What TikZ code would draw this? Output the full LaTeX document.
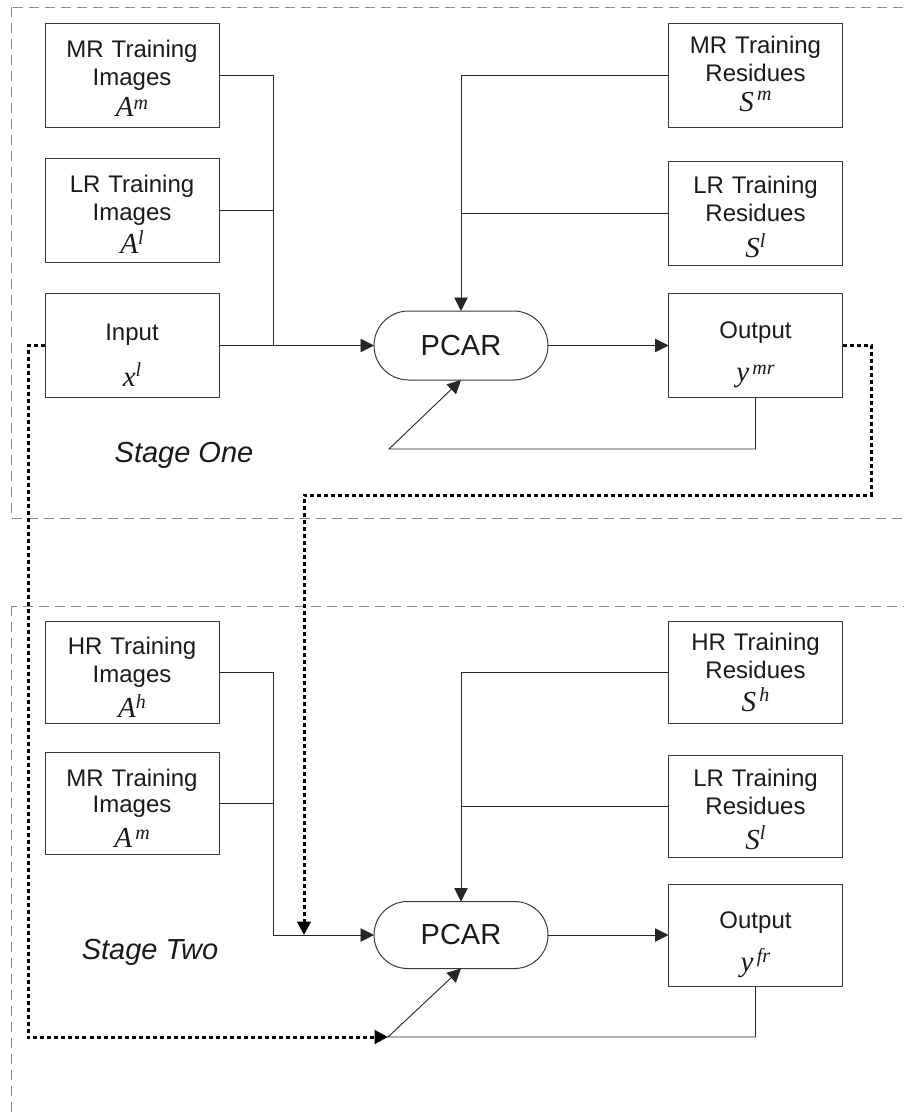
\documentclass[tikz,border=0pt]{standalone}
\usepackage{fontspec}
\setmainfont{Liberation Sans}
\newfontfamily\tmsfam{Liberation Serif}
\usetikzlibrary{arrows.meta,shapes.misc}
\definecolor{boxc}{HTML}{3A3A3A}
\definecolor{linec}{HTML}{262626}
\definecolor{framec}{HTML}{8A8A8A}
\definecolor{txt}{HTML}{1A1A1A}
% \mvar{raise}{base}{superscript}
\newcommand{\mvar}[3]{{\fontsize{29}{29}\selectfont\tmsfam\itshape #2}\raisebox{#1}{\fontsize{20}{20}\selectfont\tmsfam\itshape #3}}
\begin{document}
\begin{tikzpicture}[x=1pt,y=-1pt,
  box/.style={draw=boxc, line width=1pt, minimum width=174pt, inner sep=0pt, outer sep=0pt,
    text width=172pt, align=center, font=\fontsize{24}{28}\selectfont, text=txt,
    text height=#1, text depth=104pt-#1},
  box/.default=34pt,
  boxb/.style={draw=boxc, line width=1pt, minimum width=174pt, inner sep=0pt, outer sep=0pt,
    text width=172pt, align=center, font=\fontsize{24}{28}\selectfont, text=txt,
    text height=#1, text depth=102pt-#1},
  boxb/.default=33pt,
  pcarbox/.style={rounded rectangle, draw=boxc, line width=1pt, minimum width=174pt, minimum height=69pt, inner sep=0pt, outer sep=0pt, font=\fontsize{29}{29}\selectfont, text=txt},
  conn/.style={line width=0.9pt, draw=linec},
  arr/.style={-{Triangle[length=13.5pt,width=13.5pt]}},
  dots/.style={line width=3pt, dash pattern=on 4pt off 3pt, draw=black},
  frame/.style={draw=framec, line width=1pt, dash pattern=on 10pt off 6pt},
  stage/.style={font=\fontsize{29}{29}\selectfont\itshape, text=txt}]
\useasboundingbox (0,0) rectangle (903,1117);
% frames
\draw[frame] (11,7) rectangle (906,518);
\draw[frame] (11,606) rectangle (906,1130);
% stage one nodes
\node[box=34pt] (mri) at (132,75) {MR Training\\Images\\[3.7pt]\mvar{7pt}{A}{m}};
\node[box=33.7pt] (lri) at (132,210.5) {LR Training\\Images\\[5pt]\mvar{9pt}{A}{l}};
\node[box=47pt] (inp) at (132,345.5) {Input\\[16pt]\mvar{10pt}{x}{l}};
\node[box=30.3pt] (mrr) at (755.5,75) {MR Training\\Residues\\[2pt]\mvar{11pt}{S}{\,m}};
\node[box=32.3pt] (lrr) at (755.5,213) {LR Training\\Residues\\[8.5pt]\mvar{10pt}{S}{l}};
\node[box=45pt] (out1) at (755.5,345.5) {Output\\[15.4pt]\mvar{7pt}{y}{\,mr}};
\node[pcarbox] (pcar1) at (461,345.5) {PCAR};
\node[stage] (st1) at (184,455) {Stage One};
% stage two nodes
\node[boxb=33pt] (hri) at (132,672.5) {HR Training\\Images\\[7pt]\mvar{9pt}{A}{h}};
\node[boxb=33.7pt] (mri2) at (132,803.5) {MR Training\\[-1.7pt]Images\\[7pt]\mvar{8pt}{A}{\,m}};
\node[boxb=29pt] (hrr) at (755.5,672.5) {HR Training\\Residues\\[5.3pt]\mvar{10pt}{S}{\,h}};
\node[boxb=31.3pt] (lrr2) at (755.5,806.5) {LR Training\\Residues\\[6.7pt]\mvar{10pt}{S}{l}};
\node[boxb=44.3pt] (out2) at (755.5,935) {Output\\[13.7pt]\mvar{9pt}{y}{\,fr}};
\node[pcarbox, minimum height=67pt] (pcar2) at (461,935) {PCAR};
\node[stage] (st2) at (150,952) {Stage Two};
% coordinates
\coordinate (j1) at (273,345.5);
\coordinate (fb1) at (389,449);
\coordinate (d1) at (871,495);
\coordinate (d2) at (304,935);
\coordinate (d3) at (28,1037);
\coordinate (fb2) at (388,1037);
\coordinate (j2) at (273,935);
% stage one connectors
\draw[conn,arr] (mri.east) -| (j1) -- (pcar1.west);
\draw[conn] (lri.east) -- (lri.east -| j1);
\draw[conn] (inp.east) -- (j1);
\draw[conn,arr] (mrr.west) -| (pcar1.north);
\draw[conn] (lrr.west) -- (lrr.west -| pcar1.north);
\draw[conn,arr] (pcar1.east) -- (out1.west);
\draw[conn,arr] (out1.south) |- (fb1) -- (pcar1.south);
% stage two connectors
\draw[conn,arr] (hri.east) -| (j2) -- (pcar2.west);
\draw[conn] (mri2.east) -- (mri2.east -| j2);
\draw[conn,arr] (hrr.west) -| (pcar2.north);
\draw[conn] (lrr2.west) -- (lrr2.west -| pcar2.north);
\draw[conn,arr] (pcar2.east) -- (out2.west);
\draw[conn,arr] (out2.south) |- (fb2) -- (pcar2.south);
% dotted links
\draw[dots,arr] (out1.east) -| (d1) -| (d2);
\draw[dots,arr] (inp.west) -| (d3) -- (fb2);
\end{tikzpicture}
\end{document}
